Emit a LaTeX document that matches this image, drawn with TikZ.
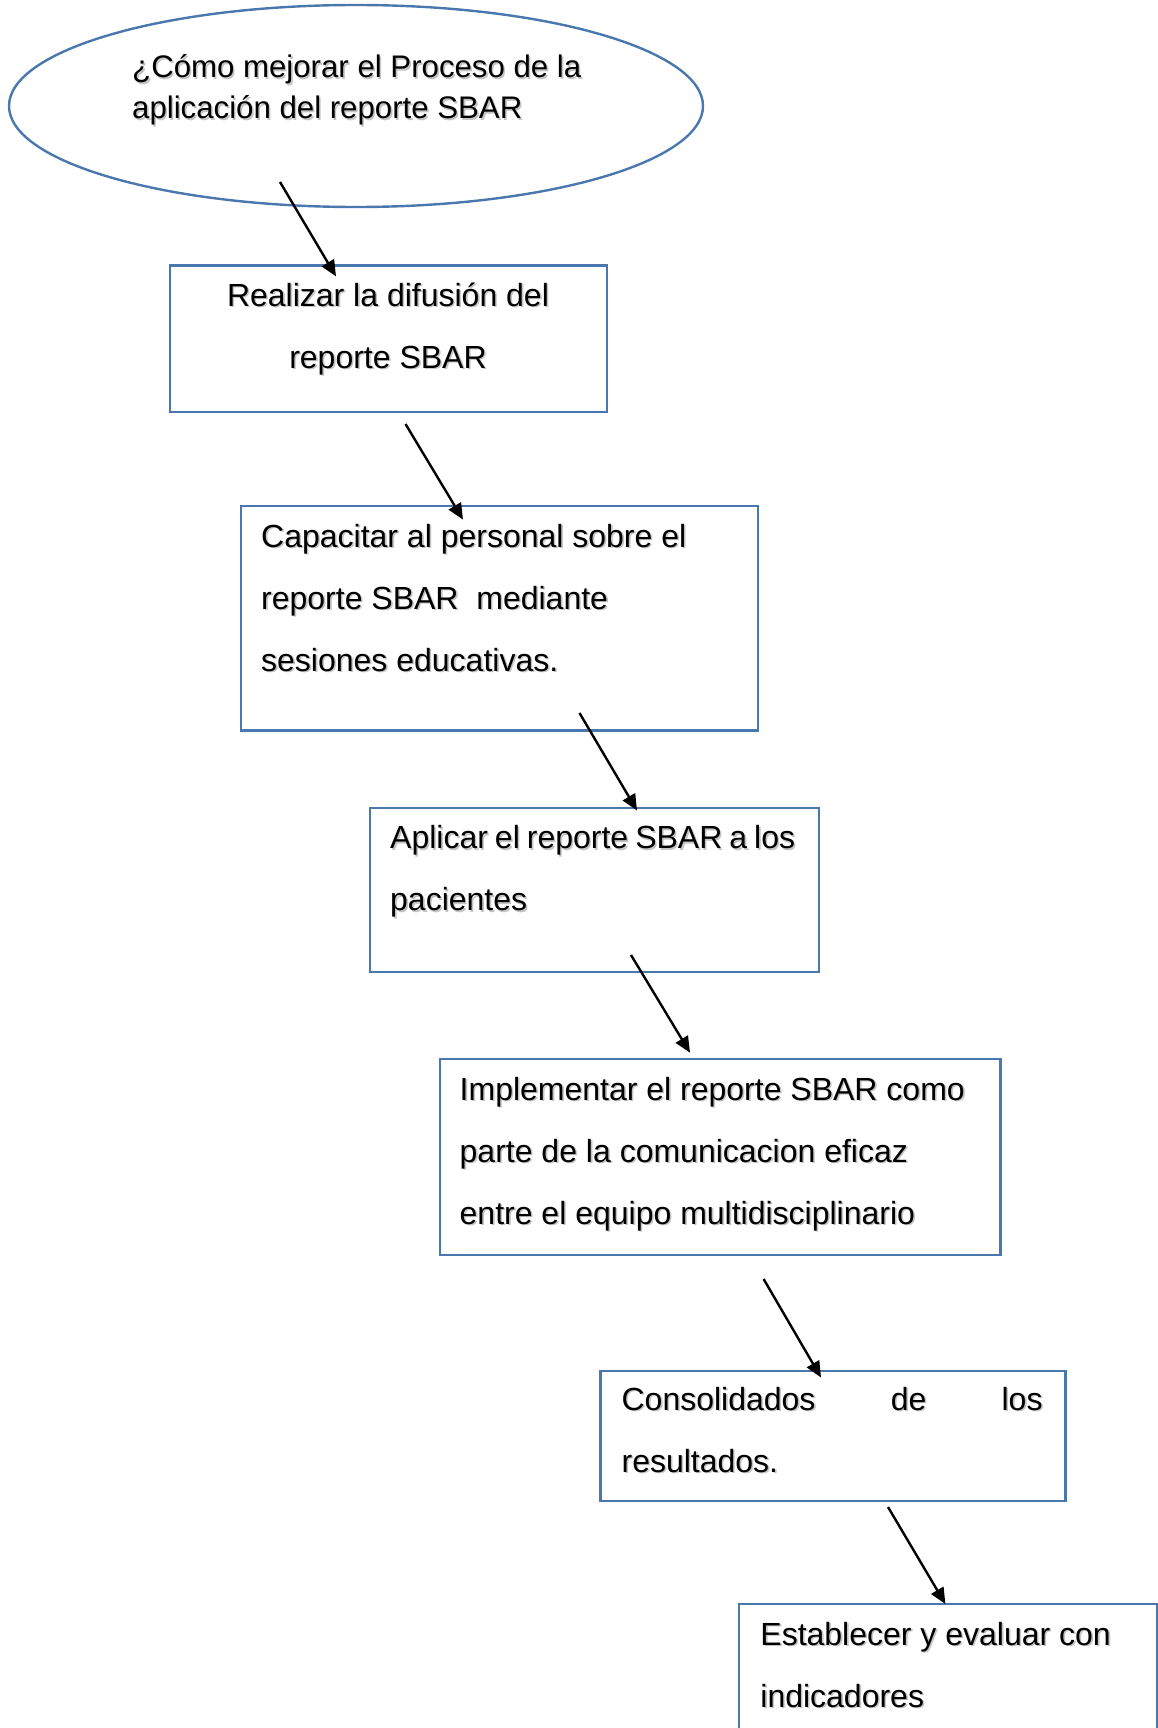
\documentclass[tikz,border=0pt]{standalone}
\usepackage{fontspec}
\setmainfont{Liberation Sans}
\usetikzlibrary{shapes.geometric,arrows.meta}
\definecolor{boxblue}{HTML}{4A78AE}
\definecolor{shadowgray}{HTML}{C4C4C4}
\tikzset{
  stepbox/.style={draw=boxblue, line width=2.4pt, rectangle, inner sep=0pt, anchor=north west},
  qshape/.style={draw=boxblue, line width=2.4pt, ellipse, inner sep=0pt},
  % multi-line text nodes are placed by the baseline of their last line
  txt/.style={inner sep=0pt, anchor=base west, align=left, font=\fontsize{32}{62}\selectfont},
  qtxt/.style={inner sep=0pt, anchor=base west, align=left, font=\fontsize{31.2}{41}\selectfont},
  flow/.style={line width=2.4pt, -{Triangle[length=16pt,width=14pt]}}
}
% text with a soft drop shadow: options, name, position, text
\newcommand\shadedlabel[4]{%
  \node[#1, text=shadowgray] at ([shift={(1.6,1.6)}]#3) {#4};
  \node[#1] (#2) at (#3) {#4};}
\begin{document}
\begin{tikzpicture}[x=1pt,y=-1pt]
\useasboundingbox (0,0) rectangle (1158,1728);
\fill[white] (0,0) rectangle (1158,1728);

% question ellipse
\node[qshape, minimum width=694pt, minimum height=202pt] (q) at (356,106) {};
\shadedlabel{qtxt}{qt}{132,119}{¿Cómo mejorar el Proceso de la\\aplicación del reporte SBAR}

% process boxes
\node[stepbox, minimum width=437.4pt, minimum height=146.6pt] (b1) at (168.6,264.4) {};
\shadedlabel{txt, align=center, anchor=base}{t1}{388,368}{Realizar la difusión del\\reporte SBAR}

\node[stepbox, minimum width=517pt, minimum height=224.8pt] (b2) at (240,504.6) {};
\shadedlabel{txt}{t2}{261,671}{Capacitar al personal sobre el\\reporte SBAR\ \ mediante\\sesiones educativas.}

\node[stepbox, minimum width=448.5pt, minimum height=164.2pt] (b3) at (369,806.5) {};
\shadedlabel{txt}{t3}{390,910.5}{\spaceskip=7pt Aplicar el reporte SBAR a los\\pacientes}

\node[stepbox, minimum width=560.8pt, minimum height=196.1pt] (b4) at (438.5,1057.7) {};
\shadedlabel{txt}{t4}{459.5,1224}{Implementar el reporte SBAR como\\parte de la comunicacion eficaz\\entre el equipo multidisciplinario}

\node[stepbox, minimum width=464.9pt, minimum height=130pt] (b5) at (599.4,1369.5) {};
\shadedlabel{txt}{t5}{621.4,1472}{\makebox[421pt][s]{Consolidados de los}\\resultados.}

\node[stepbox, minimum width=417.8pt, minimum height=160pt] (b6) at (738,1603) {};
\shadedlabel{txt}{t6}{760.2,1707}{Establecer y evaluar con\\indicadores}

% connectors
\coordinate (s1) at (280,182);
\coordinate (s2) at (405.5,424);
\coordinate (s3) at (579.5,713);
\coordinate (s4) at (631,955);
\coordinate (s5) at (763.6,1279);
\coordinate (s6) at (888,1507);
\draw[flow] (s1) -- ([xshift=167.4pt,yshift=-12pt]b1.north west);
\draw[flow] (s2) -- ([xshift=223pt,yshift=-15pt]b2.north west);
\draw[flow] (s3) -- ([xshift=268pt,yshift=-4pt]b3.north west);
\draw[flow] (s4) -- ([xshift=251.5pt,yshift=5pt]b4.north west);
\draw[flow] (s5) -- ([xshift=221.6pt,yshift=-8pt]b5.north west);
\draw[flow] (s6) -- ([xshift=207.4pt,yshift=-1pt]b6.north west);
\end{tikzpicture}
\end{document}
